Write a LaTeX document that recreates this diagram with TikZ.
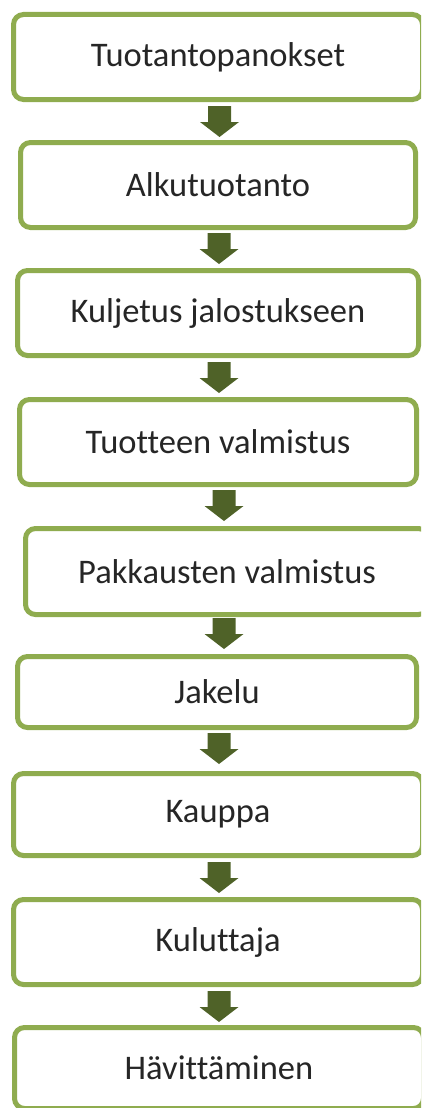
\documentclass[tikz,border=0pt]{standalone}
\usepackage{fontspec}
\setmainfont{Carlito}[Ligatures=NoCommon]
\definecolor{boxgreen}{HTML}{8FAC4F}
\definecolor{arrowgreen}{HTML}{4F6228}
\begin{document}
\begin{tikzpicture}[x=1pt,y=-1pt,
  box/.style={draw=boxgreen, line width=5pt, rounded corners=10pt, fill=white,
    inner sep=0pt, font=\fontsize{34.5}{40}\selectfont, text=black!85},
  flowarrow/.pic={\fill[arrowgreen] (-11.5,0) -- (11.5,0) -- (11.5,16) -- (19.5,16)
    -- (0,31) -- (-19.5,16) -- (-11.5,16) -- cycle;}]
\useasboundingbox (0,0) rectangle (421,1108);
\clip (0,0) rectangle (421,1108);
\node[box, minimum width=409pt, minimum height=85pt] (n1) at (218,57) {Tuotantopanokset};
\node[box, minimum width=395pt, minimum height=85pt] (n2) at (218,185) {Alkutuotanto};
\node[box, minimum width=401pt, minimum height=85pt] (n3) at (218,313) {Kuljetus jalostukseen};
\node[box, minimum width=397pt, minimum height=85pt] (n4) at (218,442) {Tuotteen valmistus};
\node[box, minimum width=403pt, minimum height=86pt] (n5) at (227,571.5) {Pakkausten valmistus};
\node[box, minimum width=399pt, minimum height=71pt] (n6) at (217,692) {Jakelu};
\node[box, minimum width=409pt, minimum height=82pt] (n7) at (218,814.5) {Kauppa};
\node[box, minimum width=409pt, minimum height=85pt] (n8) at (218,942) {Kuluttaja};
\node[box, minimum width=409pt, minimum height=81pt] (n9) at (219,1068) {Hävittäminen};
\pic (a1) at (219.5,106) {flowarrow};
\pic (a2) at (219,233) {flowarrow};
\pic (a3) at (219,362) {flowarrow};
\pic (a4) at (224,490) {flowarrow};
\pic (a5) at (224,618) {flowarrow};
\pic (a6) at (219,733) {flowarrow};
\pic (a7) at (219,862) {flowarrow};
\pic (a8) at (219,991) {flowarrow};
\end{tikzpicture}
\end{document}
